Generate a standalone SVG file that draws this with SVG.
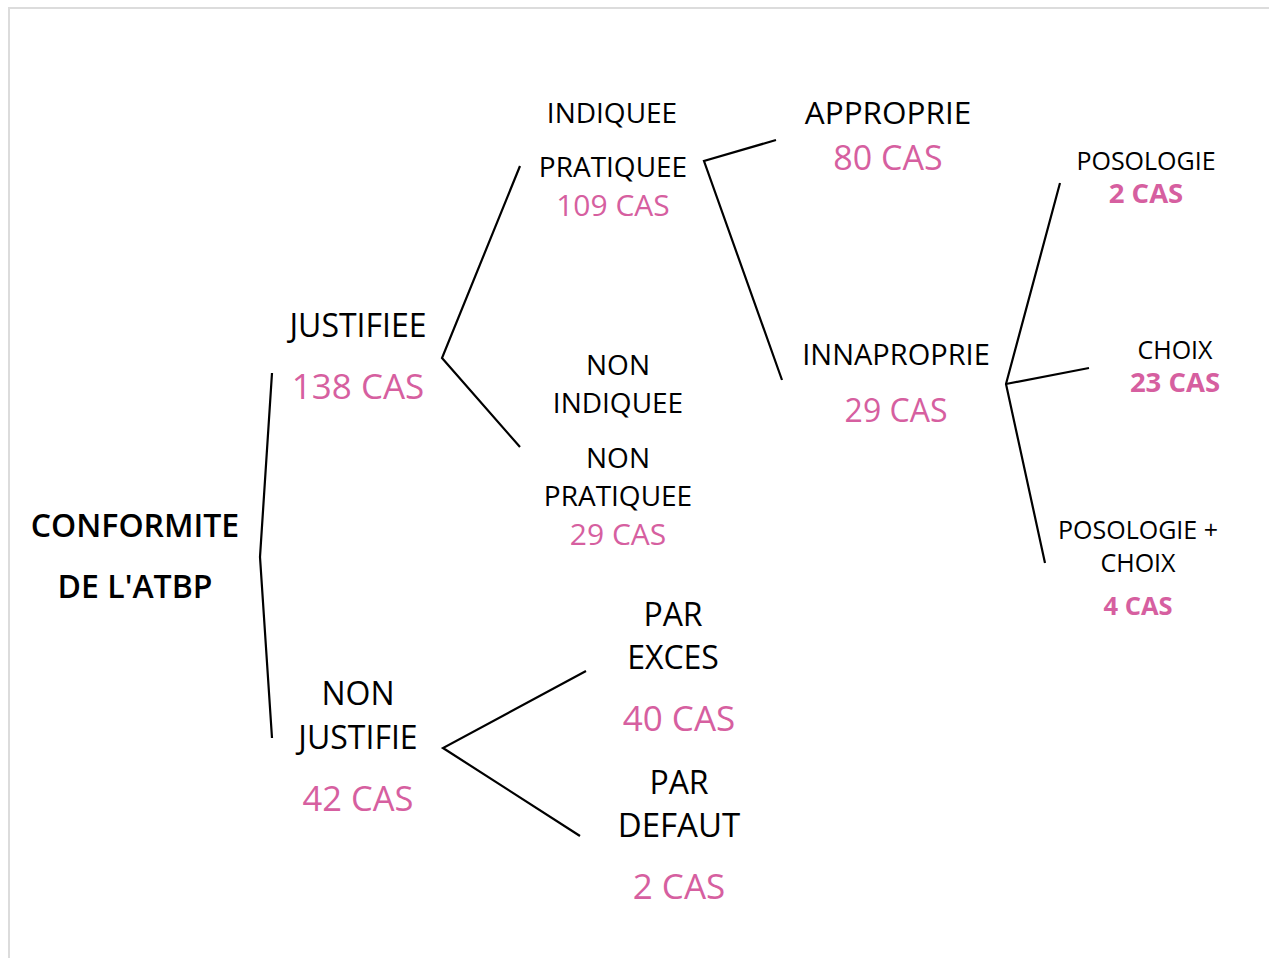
<svg xmlns="http://www.w3.org/2000/svg" width="1269" height="958" viewBox="0 0 1269 958">
<style>
text{font-family:"Open Sans","Noto Sans","Liberation Sans",sans-serif;text-anchor:middle;fill:#000}
.p{fill:#D65FA0;font-weight:500}
.b{font-weight:bold}
.sb{font-weight:600}
.ln{fill:none;stroke:#000;stroke-width:2.2;stroke-linejoin:miter}
</style>
<rect x="0" y="0" width="1269" height="958" fill="#fff"/>
<path d="M9 958 V8 H1269" fill="none" stroke="#dcdcdc" stroke-width="2"/>
<g id="connectors">
<polyline class="ln" points="272,373 260,557 272,738"/>
<polyline class="ln" points="520,166 442,358 520,447"/>
<polyline class="ln" points="776,140 704,161 782,380"/>
<polyline class="ln" points="1060,183 1006,384 1045,563"/>
<polyline class="ln" points="1006,384 1089,368"/>
<polyline class="ln" points="586,671 443,748 580,836"/>
</g>
<g id="root"><text class="sb" x="135" y="537" font-size="32">CONFORMITE</text><text class="sb" x="135" y="598" font-size="32">DE L'ATBP</text></g>
<g id="justifiee"><text x="358" y="337" font-size="32">JUSTIFIEE</text><text class="p" x="358" y="399" font-size="35">138 CAS</text></g>
<g id="non-justifie"><text x="358" y="705" font-size="32">NON</text><text x="358" y="749" font-size="32">JUSTIFIE</text><text class="p" x="358" y="811" font-size="34.5">42 CAS</text></g>
<g id="indiquee"><text x="612" y="123" font-size="28">INDIQUEE</text><text x="613" y="177" font-size="28">PRATIQUEE</text><text class="p" x="613" y="216" font-size="30">109 CAS</text></g>
<g id="non-indiquee"><text x="618" y="375" font-size="28">NON</text><text x="618" y="413" font-size="28">INDIQUEE</text><text x="618" y="468" font-size="28">NON</text><text x="618" y="506" font-size="28">PRATIQUEE</text><text class="p" x="618" y="545" font-size="30">29 CAS</text></g>
<g id="approprie"><text x="888" y="124" font-size="31.5">APPROPRIE</text><text class="p" x="888" y="170" font-size="34">80 CAS</text></g>
<g id="innaproprie"><text x="896" y="365" font-size="29">INNAPROPRIE</text><text class="p" x="896" y="422" font-size="32">29 CAS</text></g>
<g id="posologie"><text x="1146" y="170" font-size="25">POSOLOGIE</text><text class="p b" x="1146" y="203" font-size="27.5">2 CAS</text></g>
<g id="choix"><text x="1175" y="359" font-size="25">CHOIX</text><text class="p b" x="1175" y="392" font-size="27.5">23 CAS</text></g>
<g id="posologie-choix"><text x="1138" y="539" font-size="25">POSOLOGIE +</text><text x="1138" y="572" font-size="25">CHOIX</text><text class="p b" x="1138" y="615" font-size="25.5">4 CAS</text></g>
<g id="par-exces"><text x="673" y="626" font-size="32">PAR</text><text x="673" y="669" font-size="32">EXCES</text><text class="p" x="679" y="731" font-size="35">40 CAS</text></g>
<g id="par-defaut"><text x="679" y="794" font-size="32">PAR</text><text x="679" y="837" font-size="33">DEFAUT</text><text class="p" x="679" y="899" font-size="35">2 CAS</text></g>
</svg>
